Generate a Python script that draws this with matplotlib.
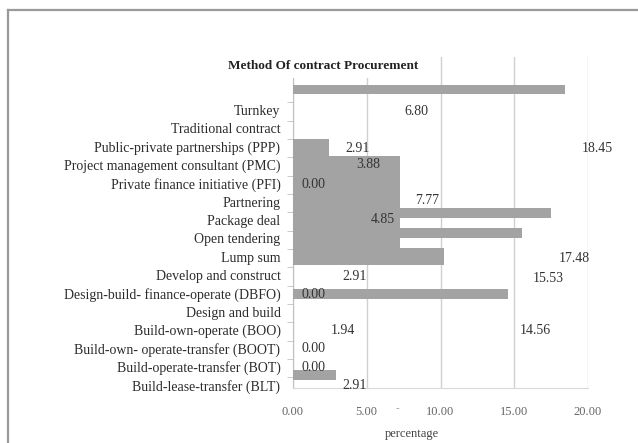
import matplotlib
matplotlib.use('Agg')
import matplotlib.pyplot as plt
from matplotlib.lines import Line2D

plt.rcParams['font.family'] = ['Liberation Serif', 'DejaVu Serif']

# categories, bottom to top (as in the Excel chart)
categories = ['Build-lease-transfer (BLT)', 'Build-operate-transfer (BOT)',
              'Build-own- operate-transfer (BOOT)', 'Build-own-operate (BOO)',
              'Design and build', 'Design-build- finance-operate (DBFO)',
              'Develop and construct', 'Lump sum', 'Open tendering', 'Package deal',
              'Partnering', 'Private finance initiative (PFI)',
              'Project management consultant (PMC)', 'Public-private partnerships (PPP)',
              'Traditional contract', 'Turnkey']

# visible bars (the chart is misaligned): length, centre row, thickness in rows
bar_values = [18.45, 2.44, 7.25, 17.48, 15.53, 10.24, 14.56, 2.91]
bar_rows = [16.12, 10.42, 9.955, 9.385, 8.295, 7.01, 4.965, 0.545]
bar_span = [0.49, 6.0, 5.07, 0.55, 0.55, 0.92, 0.55, 0.55]

# data labels as they sit in the picture
label_text = ['6.80', '2.91', '18.45', '3.88', '0.00', '7.77', '4.85', '17.48',
              '2.91', '15.53', '0.00', '1.94', '14.56', '0.00', '0.00', '2.91']
label_x = [8.39, 4.4, 20.6, 5.08, 1.36, 9.06, 6.12, 19.1,
           4.2, 17.3, 1.38, 3.41, 16.4, 1.38, 1.38, 4.2]
label_row = [14.9, 12.93, 12.93, 12.06, 10.97, 10.05, 9.04, 6.91,
             5.91, 5.84, 4.96, 3.0, 2.96, 2.0, 0.97, -0.05]

xticks = [0, 5, 10, 15, 20]

W, H = 638, 443
fig = plt.figure(figsize=(W / 100, H / 100), dpi=100)
ax = fig.add_axes([293 / W, 1 - 388 / H, (588 - 293) / W, (388 - 57) / H])

ax.barh(bar_rows, bar_values, height=bar_span, color='#a3a3a3', zorder=3)

for t, x, r in zip(label_text, label_x, label_row):
    ax.text(x, r, t, ha='center', va='center', fontsize=10, color='#333333',
            zorder=4, clip_on=False)

ax.set_xlim(0, 20)
ax.set_ylim(-0.16, 17.9)
ax.set_xticks(xticks)
ax.set_xticklabels(['%.2f' % v for v in xticks])
ax.tick_params(axis='x', length=0, pad=13, labelsize=9, labelcolor='#666666')
ax.grid(axis='x', color='#d0d0d0', linewidth=1, zorder=0)

ax.set_yticks(range(len(categories)))
ax.set_yticklabels(categories)
ax.tick_params(axis='y', length=0, pad=9, labelsize=10, labelcolor='#2b2b2b')
ax.set_yticks([r + 0.42 for r in range(len(categories))], minor=True)
ax.tick_params(axis='y', which='minor', length=4, color='#c0c0c0')

for s in ['top', 'right']:
    ax.spines[s].set_visible(False)
ax.spines['left'].set_color('#c0c0c0')
ax.spines['bottom'].set_color('#d9d9d9')

fig.text(323 / W, 1 - 66 / H, 'Method Of contract Procurement', ha='center',
         va='center', fontsize=9.5, fontweight='bold', color='#222222',
         bbox=dict(facecolor='white', edgecolor='none', pad=4), zorder=5)
fig.text(412 / W, 1 - 434 / H, 'percentage', ha='center', va='center',
         fontsize=9, color='#444444')
fig.text(397 / W, 1 - 409 / H, '-', ha='center', va='center', fontsize=8,
         color='#999999')

# outer chart frame
fig.add_artist(Line2D([8 / W, 8 / W], [0, 1 - 10 / H], color='#9a9a9a', linewidth=1.6))
fig.add_artist(Line2D([8 / W, 1], [1 - 10 / H, 1 - 10 / H], color='#9a9a9a', linewidth=1.6))

fig.savefig('out.png', dpi=100)
